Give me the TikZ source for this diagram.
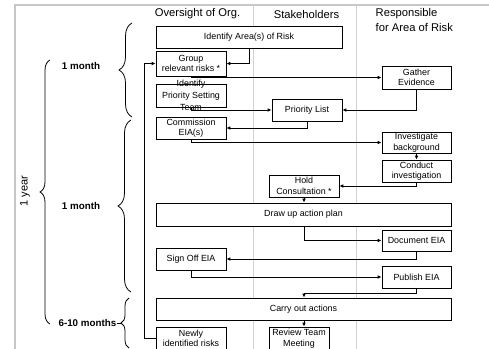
\documentclass[tikz,border=0pt]{standalone}
\usepackage{fontspec}
\setmainfont{Liberation Sans}
\usetikzlibrary{arrows.meta,decorations.pathreplacing,calc}

\tikzset{
  box/.style={draw=black, line width=1pt, fill=white, inner sep=1pt,
              align=center, font=\fontsize{8.9}{10.6}\selectfont},
  flow/.style={draw=black, line width=0.9pt, -{Latex[length=3.8pt,width=3.6pt]}},
  lane/.style={draw=black!18, line width=1pt},
  frame/.style={draw=black!22, line width=2.2pt},
  hdr/.style={font=\fontsize{11.2}{13}\selectfont, inner sep=0pt},
  period/.style={font=\fontsize{9.8}{11}\selectfont\bfseries, inner sep=0pt},
  curly/.style={draw=black, line width=0.8pt,
                decorate, decoration={brace, amplitude=#1}},
}

\begin{document}
\begin{tikzpicture}[x=1pt, y=-1pt]
\useasboundingbox (0,0) rectangle (489,348);
\begin{scope}
\clip (0,0) rectangle (489,348);

% outer frame and swim-lane dividers
\draw[frame] (15,360) -- (15,5) -- (500,5);
\draw[lane] (253,5) -- (253,360);
\draw[lane] (356,5) -- (356,360);

% lane headings
\node[hdr] (hOrg) at (197.5,14) {Oversight of Org.};
\node[hdr] (hStake) at (306.5,14) {Stakeholders};
\node[hdr, anchor=west] (hResp1) at (375.5,14) {Responsible};
\node[hdr, anchor=west] (hResp2) at (375.5,27.5) {for Area of Risk};

% time-span braces
\draw[curly=10pt] (50,324) -- (50,60);
\node[font=\fontsize{11}{12}\selectfont, rotate=90, inner sep=0pt] (year) at (25,191) {1 year};

\draw[curly=13pt] (132,117) -- (132,23);
\node[period] (m1) at (81,66) {1 month};

\draw[curly=13pt] (131,292) -- (131,120);
\node[period] (m2) at (81,206) {1 month};

\draw[curly=8pt] (129,348) -- (129,298);
\node[period, anchor=east] (m3) at (116.5,323) {6-10 months};
\draw[line width=0.8pt] (m3.east) -- (121,323);

% process steps
\node[box, minimum width=186pt, minimum height=22pt] (ident) at (249,37) {Identify Area(s) of Risk};
\node[box, minimum width=70pt, minimum height=25pt] (group) at (191,63.5) {Group\\relevant risks *};
\node[box, minimum width=70pt, minimum height=23pt] (team) at (191,95.5) {};
\node[box, minimum width=70pt, minimum height=22pt] (comm) at (191,128) {Commission\\EIA(s)};
\node[box, minimum width=70pt, minimum height=22pt] (sign) at (191,259) {Sign Off EIA};
\node[box, minimum width=70pt, minimum height=23pt] (newly) at (191,338.5) {Newly\\identified risks};

\node[box, minimum width=69pt, minimum height=23pt] (gather) at (416.5,77.5) {Gather\\Evidence};
\node[box, minimum width=70pt, minimum height=22pt] (plist) at (307,110) {Priority List};
\node[box, minimum width=69pt, minimum height=21pt] (invest) at (416.5,142.5) {Investigate\\background};
\node[box, minimum width=69pt, minimum height=22pt] (conduct) at (416.5,171) {Conduct\\investigation};
\node[box, minimum width=70pt, minimum height=22pt] (hold) at (304,186) {Hold\\Consultation *};
\node[box, minimum width=295pt, minimum height=23pt] (drawup) at (303.5,214.5) {Draw up action plan};
\node[box, minimum width=69pt, minimum height=21pt] (doc) at (416.5,240.5) {Document EIA};
\node[box, minimum width=69pt, minimum height=22pt] (pub) at (416.5,277) {Publish EIA};
\node[box, minimum width=295pt, minimum height=22pt] (carry) at (303.5,309) {Carry out actions};
\node[box, minimum width=60pt, minimum height=23pt] (review) at (299,338.5) {Review Team\\Meeting};

% connectors
\draw[flow] (ident.south) |- (group.east);
\draw[flow] (group.south) |- (gather.west);
\draw[flow] (team.south) |- (plist.west);
\draw[flow] (gather.south) |- (plist.east);
\draw[flow] (plist.south) |- (comm.east);
\draw[flow] (comm.south) |- (invest.west);
\draw[flow] (invest.south) -- (conduct.north);
\draw[flow] (conduct.south) |- (hold.east);
\draw[flow] (hold.south) -- (drawup.north -| hold.south);
\draw[flow] (drawup.south -| hold.south) |- (doc.west);
\draw[flow] (doc.south) |- (sign.east);
\draw[flow] (sign.south) |- (pub.west);
\draw[flow] (pub.south) -- ++(0,4.7) -| (carry.north -| hold.south);
\draw[flow] (carry.south -| hold.south) -- (review.north -| hold.south);
\draw[flow] (newly.west) -- ++(-11,0) |- (group.west);

% overflowing label of the team box, set above its connector
\node[align=center, inner sep=0pt, font=\fontsize{8.9}{12}\selectfont] (teamtxt) at (team.center) {Identify\\Priority Setting\\Team};
\end{scope}
\end{tikzpicture}
\end{document}
